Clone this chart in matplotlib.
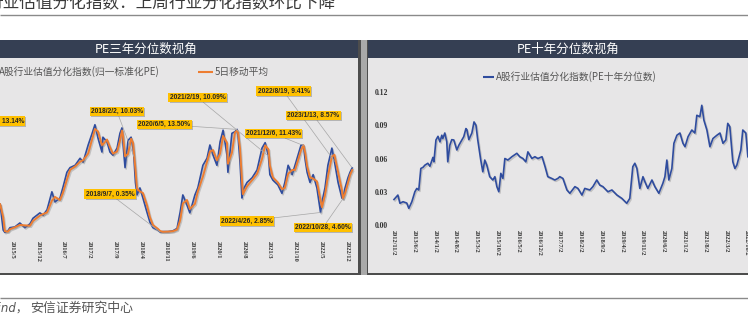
import numpy as np
import pandas as pd
import matplotlib
matplotlib.use("Agg")
import matplotlib.pyplot as plt
import matplotlib.dates as mdates
import matplotlib.patheffects as pe
from matplotlib.patches import Rectangle
from matplotlib.lines import Line2D

plt.rcParams['font.family'] = ['Noto Sans CJK SC', 'DejaVu Sans']

# ---- 三年分位数视角：行业估值分化指数 (%)，及其5日移动平均
left_dates = [
    "2015-01-23", "2015-02-17", "2015-03-03", "2015-03-28", "2015-04-14",
    "2015-05-25", "2015-07-05", "2015-08-16", "2015-09-27", "2015-10-21", "2015-12-18",
    "2016-01-13", "2016-02-15", "2016-03-26", "2016-04-20", "2016-06-01", "2016-06-26",
    "2016-07-28", "2016-08-23", "2016-10-04", "2016-11-14", "2016-12-09", "2017-01-20",
    "2017-02-22", "2017-03-17", "2017-04-11", "2017-05-14", "2017-05-22", "2017-06-25",
    "2017-07-19", "2017-08-13", "2017-09-16", "2017-10-10", "2017-10-27", "2017-11-05",
    "2017-11-21", "2017-12-16", "2018-01-10", "2018-01-26", "2018-02-02", "2018-02-15",
    "2018-02-28", "2018-03-24", "2018-04-18", "2018-05-21", "2018-06-15", "2018-07-10",
    "2018-08-20", "2018-09-07", "2018-10-01", "2018-11-12", "2018-12-22", "2019-01-25",
    "2019-02-20", "2019-03-14", "2019-04-17", "2019-05-11", "2019-06-22", "2019-07-16",
    "2019-08-27", "2019-09-30", "2019-10-24", "2019-11-19", "2019-12-21", "2020-01-16",
    "2020-02-10", "2020-03-13", "2020-03-21", "2020-04-23", "2020-05-18", "2020-06-05",
    "2020-06-12", "2020-06-29", "2020-07-15", "2020-07-23", "2020-08-26", "2020-10-07",
    "2020-11-17", "2020-12-28", "2021-01-23", "2021-02-19", "2021-03-03", "2021-03-28",
    "2021-05-08", "2021-06-11", "2021-07-05", "2021-08-01", "2021-09-03", "2021-09-27",
    "2021-10-22", "2021-11-16", "2021-12-06", "2021-12-20", "2022-01-05", "2022-01-29",
    "2022-02-24", "2022-03-27", "2022-04-26", "2022-05-08", "2022-06-02", "2022-06-26",
    "2022-07-29", "2022-08-19", "2022-09-18", "2022-10-20", "2022-10-28", "2022-11-15",
    "2022-12-09", "2022-12-26", "2023-01-13",
]
left_vals = [
    3.9, 0.6, 0.3, 0.5, 0.9,
    1.0, 1.5, 0.9, 1.4, 2.1, 2.8,
    2.5, 3.2, 5.5, 4.2, 4.7, 6.1,
    8.0, 8.6, 8.9, 9.8, 9.3, 11.5,
    13.0, 14.1, 12.4, 10.6, 12.5, 11.9,
    10.6, 10.2, 11.1, 13.0, 13.7, 11.5,
    8.6, 12.1, 12.5, 11.1, 10.03, 6.7,
    5.1, 6.0, 4.7, 2.9, 1.6, 0.9,
    0.6, 0.35, 0.4, 0.4, 0.5, 0.8,
    2.9, 5.1, 3.8, 2.8, 5.1, 6.0,
    8.9, 9.8, 11.5, 10.2, 8.9, 11.9,
    13.4, 10.2, 8.0, 13.0, 13.2, 13.50,
    12.8, 9.3, 4.7, 5.7, 6.7, 7.3,
    8.3, 11.1, 11.8, 10.09, 7.7, 7.0,
    6.4, 5.3, 6.7, 8.9, 7.7, 8.9,
    10.2, 11.5, 11.43, 9.6, 8.0, 6.7,
    7.7, 6.0, 2.85, 4.2, 6.0, 8.9,
    11.1, 9.41, 6.7, 4.7, 4.60, 6.0,
    7.3, 8.0, 8.57,
]
left_tick_labels = ["2015/5", "2015/12", "2016/7", "2017/2", "2017/9", "2018/4", "2018/11",
                    "2019/6", "2020/1", "2020/8", "2021/3", "2021/10", "2022/5", "2022/12"]
left_marked = ["2018-02-02", "2018-09-07", "2020-06-05", "2021-02-19",
               "2021-12-06", "2022-08-19", "2023-01-13", "2022-04-26", "2022-10-28"]
left_marked_pos = [(117, 111.5), (110, 194), (164.5, 124.5), (197.5, 97.5),
                   (273.5, 133.5), (283.5, 91), (313.5, 115.5), (247, 221), (323, 227.5)]
# label whose point lies left of the visible window
left_edge_label = "2014/12/5, 13.14%"

# ---- 十年分位数视角
right_dates = [
    "2012-11-09", "2012-12-19", "2013-01-09", "2013-02-10", "2013-03-20", "2013-04-10",
    "2013-05-11", "2013-06-11", "2013-07-01", "2013-07-21", "2013-08-11", "2013-09-02",
    "2013-09-22", "2013-10-22", "2013-11-12", "2013-12-13", "2013-12-23", "2014-01-13",
    "2014-02-03", "2014-02-23", "2014-03-14", "2014-03-24", "2014-04-14", "2014-05-04",
    "2014-05-14", "2014-06-04", "2014-06-24", "2014-07-15", "2014-08-15", "2014-09-05",
    "2014-10-05", "2014-10-25", "2014-11-16", "2014-11-26", "2014-12-16", "2015-01-16",
    "2015-02-07", "2015-02-27", "2015-03-17", "2015-04-17", "2015-05-08", "2015-05-28",
    "2015-06-18", "2015-07-18", "2015-08-19", "2015-09-09", "2015-09-29", "2015-10-19",
    "2015-11-09", "2015-11-30", "2015-12-20", "2016-01-20", "2016-03-01", "2016-04-21",
    "2016-05-21", "2016-06-22", "2016-07-22", "2016-08-12", "2016-09-22", "2016-10-23",
    "2016-11-23", "2017-01-04", "2017-02-04", "2017-03-04", "2017-04-14", "2017-05-15",
    "2017-06-15", "2017-07-05", "2017-08-06", "2017-09-16", "2017-10-16", "2017-12-07",
    "2018-01-07", "2018-02-17", "2018-03-18", "2018-05-09", "2018-06-09", "2018-07-19",
    "2018-08-19", "2018-09-20", "2018-11-10", "2018-12-21", "2019-02-11", "2019-04-02",
    "2019-05-22", "2019-06-22", "2019-07-23", "2019-08-13", "2019-09-03", "2019-10-03",
    "2019-11-04", "2019-11-24", "2019-12-24", "2020-02-04", "2020-03-05", "2020-04-15",
    "2020-05-26", "2020-06-16", "2020-07-06", "2020-07-26", "2020-08-26", "2020-09-16",
    "2020-10-17", "2020-11-17", "2020-12-18", "2021-01-08", "2021-02-08", "2021-03-19",
    "2021-04-19", "2021-05-09", "2021-06-09", "2021-06-29", "2021-07-20", "2021-08-20",
    "2021-09-20", "2021-10-21", "2021-12-01", "2022-01-01", "2022-02-01", "2022-03-02",
    "2022-03-22", "2022-04-12", "2022-05-13", "2022-06-03", "2022-06-23", "2022-08-03",
    "2022-08-23", "2022-09-23", "2022-10-14", "2022-11-15",
]
right_vals = [
    0.023, 0.027, 0.0196, 0.021, 0.0198, 0.015,
    0.021, 0.030, 0.033, 0.0316, 0.051, 0.052,
    0.054, 0.0557, 0.053, 0.061, 0.057, 0.0767,
    0.080, 0.075, 0.081, 0.078, 0.083, 0.075,
    0.057, 0.072, 0.077, 0.0767, 0.0677, 0.072,
    0.0767, 0.0797, 0.087, 0.086, 0.077, 0.083,
    0.093, 0.090, 0.077, 0.0586, 0.048, 0.0586,
    0.054, 0.0436, 0.0406, 0.0436, 0.0346, 0.030,
    0.0466, 0.042, 0.060, 0.0586, 0.0616, 0.0647,
    0.0616, 0.060, 0.057, 0.066, 0.060, 0.0616,
    0.060, 0.0616, 0.0526, 0.0436, 0.042, 0.0406,
    0.042, 0.0436, 0.042, 0.0316, 0.0286, 0.0346,
    0.033, 0.027, 0.033, 0.0316, 0.0346, 0.0406,
    0.036, 0.0346, 0.030, 0.0316, 0.027, 0.024,
    0.0196, 0.024, 0.0526, 0.0557, 0.051, 0.033,
    0.0436, 0.039, 0.033, 0.0406, 0.0346, 0.0286,
    0.0376, 0.0436, 0.0586, 0.0406, 0.051, 0.0737,
    0.081, 0.083, 0.0737, 0.0706, 0.0797, 0.0857,
    0.083, 0.099, 0.0977, 0.108, 0.0947, 0.0857,
    0.0706, 0.078, 0.081, 0.083, 0.0737, 0.0767,
    0.0917, 0.0887, 0.057, 0.051, 0.054, 0.0677,
    0.0857, 0.083, 0.0616, 0.058,
]
right_tick_labels = ["2012/11/2", "2013/6/2", "2014/1/2", "2014/8/2", "2015/3/2", "2015/10/2",
                     "2016/5/2", "2016/12/2", "2017/7/2", "2018/2/2", "2018/9/2", "2019/4/2",
                     "2019/11/2", "2020/6/2", "2021/1/2", "2021/8/2", "2022/3/2", "2022/10/2"]
right_yticks = [0.00, 0.03, 0.06, 0.09, 0.12]

assert len(left_dates) == len(left_vals)
assert len(right_dates) == len(right_vals)

BLUE = "#2f4c9e"
ORANGE = "#ed7d31"
NAVY = "#353f53"
BG = "#e7e6e7"
DARK = "#4d4d4d"
MID = "#a9a9a9"
GOLD = "#ffc000"

W, H = 748, 322
fig = plt.figure(figsize=(W / 100, H / 100), dpi=100)


def fx(x):
    return x / W


def fy(y):
    return 1 - y / H


def rect(x0, y0, x1, y1, color):
    fig.add_artist(Rectangle((fx(x0), fy(y1)), (x1 - x0) / W, (y1 - y0) / H,
                             transform=fig.transFigure, facecolor=color,
                             edgecolor="none", zorder=-5))


def fline(x0, y0, x1, y1, color, lw, z=1):
    fig.add_artist(Line2D([fx(x0), fx(x1)], [fy(y0), fy(y1)], transform=fig.transFigure,
                          color=color, lw=lw, zorder=z, solid_capstyle="butt"))


def add_axes_px(x0, y0, x1, y1):
    ax = fig.add_axes([fx(x0), fy(y1), (x1 - x0) / W, (y1 - y0) / H])
    ax.patch.set_visible(False)
    for s in ax.spines.values():
        s.set_visible(False)
    return ax


def date_limits(d0, p0, d1, p1, left_px, right_px):
    # x limits so that date d0 sits at pixel p0 and d1 at p1
    n0, n1 = mdates.date2num(pd.Timestamp(d0)), mdates.date2num(pd.Timestamp(d1))
    ppd = (p1 - p0) / (n1 - n0)
    return n0 - (p0 - left_px) / ppd, n0 + (right_px - p0) / ppd


label_style = dict(fontsize=4.8, fontweight="bold", family="Liberation Sans", color="#262626",
                   bbox=dict(boxstyle="square,pad=0.18", fc=GOLD, ec="none"))
box_shadow = [pe.withSimplePatchShadow(offset=(0.8, -0.8), shadow_rgbFace="#777777", alpha=0.45)]

# page rules, heading and source line
fline(0, 14.5, W, 14.5, "#8a8a8a", 1.0)
fline(0, 298, W, 298, "#8a8a8a", 1.0)
fig.text(fx(-13.5), fy(8.5), "行业估值分化指数：上周行业分化指数环比下降",
         fontsize=12, color="#3a3a3a", va="baseline")
fig.text(fx(-13), fy(308), "Wind，", fontsize=8.5, style="italic",
         color="#555555", va="center", family=["DejaVu Sans", "Noto Sans CJK SC"])
fig.text(fx(30), fy(308), "安信证券研究中心", fontsize=9.3, color="#555555", va="center")

# panel frames
rect(-80, 40, 360, 275, BG)
rect(-80, 40, 359, 58, NAVY)
rect(357.5, 40, 360.5, 275, DARK)
rect(360.5, 40, 366.5, 275, MID)
rect(366.5, 40, 368, 275, DARK)
rect(368, 40, 770, 275, BG)
rect(368, 40, 770, 58, NAVY)
rect(-80, 272.5, 360, 275, DARK)
rect(366.5, 272.5, 770, 275, DARK)
fig.text(fx(146), fy(49), "PE三年分位数视角", color="white", fontsize=9, ha="center", va="center")
fig.text(fx(568), fy(49), "PE十年分位数视角", color="white", fontsize=9, ha="center", va="center")

shadow = [pe.SimpleLineShadow(offset=(0.8, -1.0), shadow_color="#7a7a7a", alpha=0.35), pe.Normal()]
tick_font = dict(family="Liberation Serif", weight="bold")

# ---- left panel
ld = pd.to_datetime(left_dates)
ls = pd.Series(left_vals, index=ld)
lma = ls.rolling(2, min_periods=1).mean()

axL = add_axes_px(-75, 85, 357, 237)
axL.set_xlim(*date_limits("2015-05-01", 12, "2022-12-01", 347, -75, 357))
axL.set_ylim((234.7 - 237) / 7.8, (234.7 - 85) / 7.8)
axL.plot(ld, ls.values, color=BLUE, lw=1.2, path_effects=shadow, zorder=2)
axL.plot(ld, lma.values, color=ORANGE, lw=1.4, path_effects=shadow, zorder=3)
axL.set_yticks([])
lticks = pd.to_datetime([t + "/1" for t in left_tick_labels], format="%Y/%m/%d")
axL.set_xticks(mdates.date2num(lticks))
axL.set_xticklabels(left_tick_labels, rotation=270, fontsize=4.6, color="#333333", **tick_font)
axL.tick_params(axis="x", length=0, pad=3.2)

for d, (cx, cy) in zip(left_marked, left_marked_pos):
    t = pd.Timestamp(d)
    v = ls[t]
    ann = axL.annotate(f"{t.year}/{t.month}/{t.day}, {v:.2f}%",
                       xy=(mdates.date2num(t), v), xytext=(cx, H - cy),
                       textcoords="figure pixels", ha="center", va="center",
                       zorder=5, annotation_clip=False,
                       arrowprops=dict(arrowstyle="-", color="#a6a6a6", lw=0.5,
                                       shrinkA=0, shrinkB=0),
                       **label_style)
    ann.get_bbox_patch().set_path_effects(box_shadow)

edge = fig.text(fx(24), fy(121), left_edge_label, ha="right", va="center", **label_style)
edge.get_bbox_patch().set_path_effects(box_shadow)

# left legend
fline(-20, 72, -5, 72, BLUE, 1.5)
fig.text(fx(-1), fy(72), "A股行业估值分化指数(归一标准化PE)", fontsize=7, color="#555555",
         va="center")
fline(198, 72, 213, 72, ORANGE, 1.5)
fig.text(fx(215), fy(72), "5日移动平均", fontsize=7, color="#555555", va="center")

# ---- right panel
rd = pd.to_datetime(right_dates)
axR = add_axes_px(392, 92, 770, 225)
axR.set_xlim(*date_limits("2012-11-02", 393.3, "2022-10-02", 746.7, 392, 770))
axR.set_ylim(0, 0.12)
axR.axhline(0, color="#d2d2d2", lw=0.7, zorder=1)
axR.plot(rd, right_vals, color=BLUE, lw=1.2, path_effects=shadow, zorder=3)
axR.set_yticks(right_yticks)
axR.set_yticklabels([f"{v:.2f}" for v in right_yticks], fontsize=5.5, color="#333333", **tick_font)
rticks = pd.to_datetime(right_tick_labels, format="%Y/%m/%d")
axR.set_xticks(mdates.date2num(rticks))
axR.set_xticklabels(right_tick_labels, rotation=270, fontsize=4.6, color="#333333", **tick_font)
axR.tick_params(axis="both", length=0)
axR.tick_params(axis="x", pad=3.6)
axR.tick_params(axis="y", pad=3.0)

fline(483, 77, 494, 77, BLUE, 1.5)
fig.text(fx(496), fy(77), "A股行业估值分化指数(PE十年分位数)", fontsize=7, color="#555555",
         va="center")

fig.savefig("out.png", dpi=100)
